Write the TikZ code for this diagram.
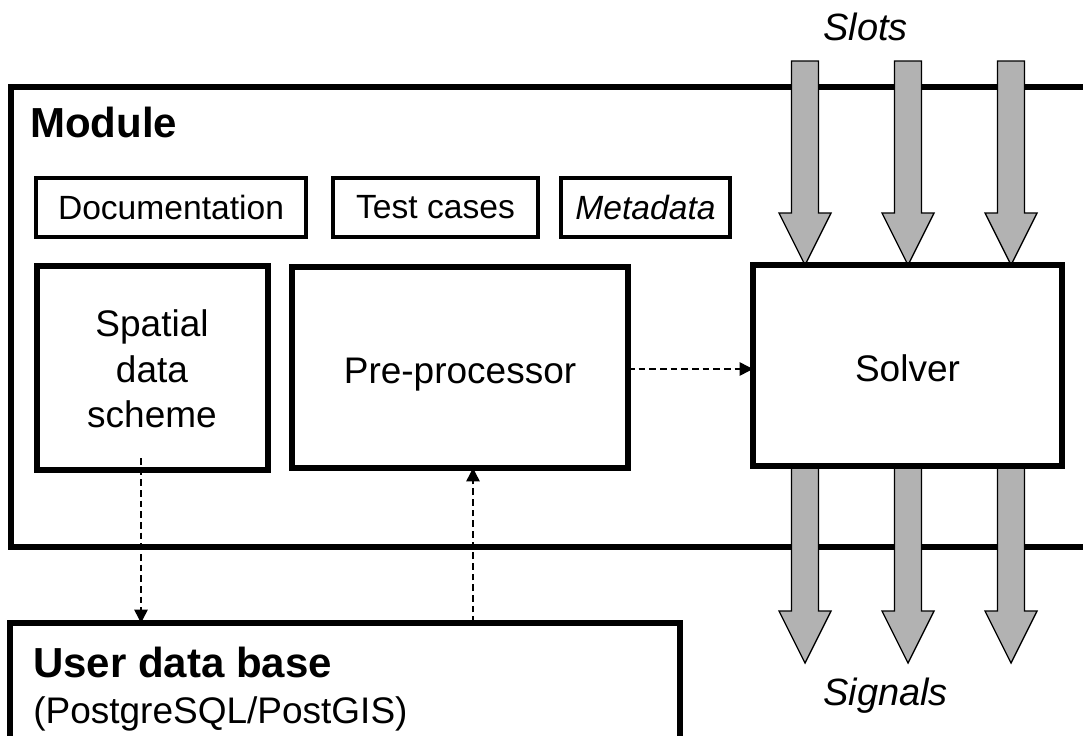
\documentclass[tikz,border=0pt]{standalone}
\usepackage{fontspec}
\setmainfont{Liberation Sans}
\usetikzlibrary{arrows.meta,calc}
\tikzset{
  frame/.style={draw=black, line width=4.5pt, inner sep=0pt, outer sep=0pt},
  smallbox/.style={draw=black, fill=white, line width=3.6pt, inner sep=0pt, outer sep=0pt, minimum height=44.25pt, font=\fontsize{25.2}{30}\selectfont},
  bigbox/.style={draw=black, fill=white, line width=3.8pt, inner sep=0pt, outer sep=0pt},
  bigtext/.style={font=\fontsize{27.75}{34.1}\selectfont, align=center, inner sep=0pt},
  onelinetext/.style={text height=24pt, text depth=0pt},
  dasharrow/.style={draw=black, line width=1.1pt, dash pattern=on 5pt off 3pt, -{Triangle[length=10pt,width=10pt]}},
  blockarrow/.style={fill={rgb,255:red,178;green,178;blue,178}, draw=black, line width=1pt, line join=miter},
}
\newcommand\blockarr[2]{\filldraw[blockarrow] let \p1=(#1), \p2=(#2) in
  (\x1-10.1pt,\y1) -- (\x1+10.1pt,\y1) -- (\x1+10.1pt,\y2+39pt) -- (\x1+19.5pt,\y2+39pt)
  -- (\x1,\y2) -- (\x1-19.5pt,\y2+39pt) -- (\x1-10.1pt,\y2+39pt) -- cycle;}
\begin{document}
\begin{tikzpicture}[x=0.75pt,y=-0.75pt]
\useasboundingbox (0,0) rectangle (1083,736);
% Module frame (right side beyond the picture)
\node[frame, minimum width=839.25pt, minimum height=345pt] (module) at (570.5,317) {};
\node[anchor=base west, inner sep=0pt, font=\bfseries\fontsize{31.5}{36}\selectfont] (moduletitle) at (30,137) {Module};
% small boxes
\node[smallbox, minimum width=202.5pt] (doc) at (171,207.5) {Documentation};
\node[smallbox, minimum width=153.75pt] (test) at (435.5,207.5) {Test cases};
\node[smallbox, minimum width=126.75pt] (meta) at (645.5,207.5) {\itshape Metadata};
% big boxes
\node[bigbox, minimum width=173.25pt, minimum height=153pt] (spatial) at (152.5,368) {};
\node[bigtext] (spatialtext) at (152,369) {Spatial\\data\\scheme};
\node[bigbox, bigtext, onelinetext, minimum width=252pt, minimum height=150.75pt] (pre) at (460,367.5) {Pre-processor};
% block arrows
\coordinate (s1) at (805,61);
\coordinate (s2) at (908,61);
\coordinate (s3) at (1011,61);
\coordinate (t1) at (805,663);
\coordinate (t2) at (908,663);
\coordinate (t3) at (1011,663);
\node[bigbox, bigtext, onelinetext, minimum width=231.75pt, minimum height=150.75pt] (solver) at (907.5,365.5) {Solver};
\blockarr{s1}{s1 |- solver.north}
\blockarr{s2}{s2 |- solver.north}
\blockarr{s3}{s3 |- solver.north}
\blockarr{t1 |- solver.south}{t1}
\blockarr{t2 |- solver.south}{t2}
\blockarr{t3 |- solver.south}{t3}
\draw[line width=3.8pt] (solver.north west) rectangle (solver.south east);
\node[anchor=base west, inner sep=0pt, font=\itshape\fontsize{28.5}{34}\selectfont] (slots) at (823,40) {Slots};
\node[anchor=base west, inner sep=0pt, font=\itshape\fontsize{28.5}{34}\selectfont] (signals) at (823,705) {Signals};
% user data base
\node[bigbox, line width=4.5pt, minimum width=502.5pt, minimum height=120pt] (userdb) at (345,703) {};
\node[anchor=base west, inner sep=0pt, font=\bfseries\fontsize{31.5}{36}\selectfont] (dbtitle) at (33,677) {User data base};
\node[anchor=base west, inner sep=0pt, font=\fontsize{27.75}{33}\selectfont] (dbsub) at (33,723) {(PostgreSQL/PostGIS)};
% dashed connectors
\coordinate (sp) at (141,458);
\coordinate (dbp) at (473,623);
\draw[dasharrow] (sp) -- (sp |- userdb.north);
\draw[dasharrow] (dbp) -- (dbp |- pre.south);
\draw[dasharrow] (pre.east |- 0,369) -- (solver.west |- 0,369);
\end{tikzpicture}
\end{document}
